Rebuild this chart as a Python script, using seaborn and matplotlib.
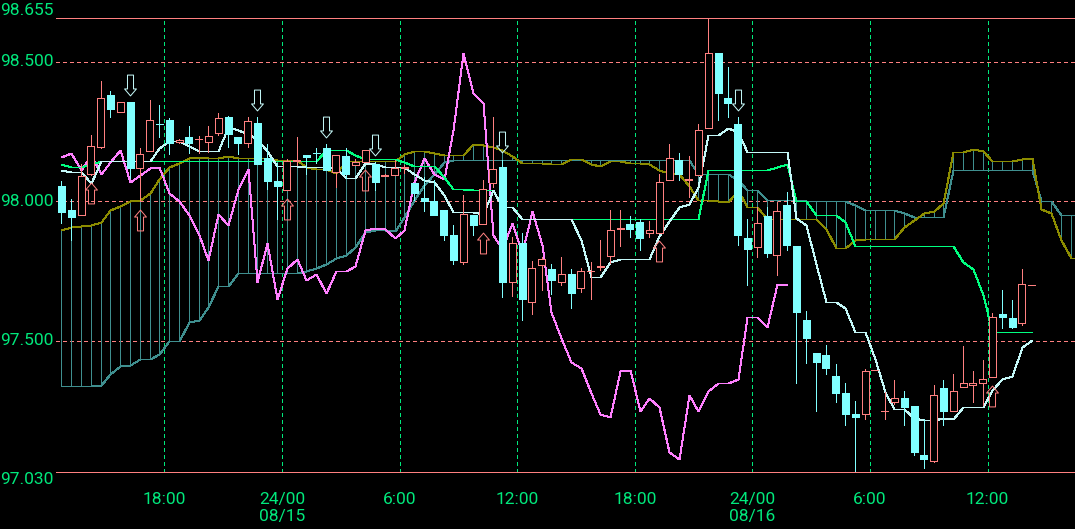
import numpy as np
import matplotlib
matplotlib.use("Agg")
import matplotlib.pyplot as plt
import matplotlib.transforms as mtransforms
from matplotlib.path import Path
import seaborn as sns

# 30 minute candles (index 0..99)
opens = [98.055, 97.970, 97.952, 98.099, 98.195, 98.380, 98.318, 98.354, 98.118, 98.181,
         98.278, 98.291, 98.213, 98.231, 98.222, 98.214, 98.245, 98.303, 98.231, 98.208,
         98.279, 98.154, 98.072, 98.040, 98.146, 98.167, 98.174, 98.190, 98.106, 98.162,
         98.131, 98.141, 98.135, 98.092, 98.094, 98.118, 98.065, 98.013, 98.000, 97.970,
         97.878, 97.783, 97.950, 97.918, 98.065, 98.123, 97.711, 97.851, 97.640, 97.771,
         97.757, 97.711, 97.739, 97.691, 97.749, 97.766, 97.803, 97.900, 97.920, 97.926,
         97.888, 97.888, 98.078, 98.149, 98.076, 98.093, 98.264, 98.532, 98.370, 98.276,
         97.870, 97.836, 97.946, 97.809, 97.988, 97.839, 97.574, 97.458, 97.449, 97.374,
         97.315, 97.240, 97.237, 97.395, 97.248, 97.282, 97.297, 97.266, 97.091, 97.071,
         97.330, 97.249, 97.335, 97.344, 97.350, 97.371, 97.596, 97.584, 97.566, 97.699]
highs = [98.073, 98.007, 98.135, 98.236, 98.430, 98.396, 98.354, 98.354, 98.190, 98.362,
         98.343, 98.298, 98.222, 98.268, 98.235, 98.268, 98.315, 98.306, 98.231, 98.303,
         98.300, 98.204, 98.136, 98.151, 98.231, 98.167, 98.190, 98.204, 98.165, 98.190,
         98.151, 98.184, 98.140, 98.096, 98.149, 98.130, 98.065, 98.087, 98.075, 97.970,
         97.914, 98.021, 97.950, 98.075, 98.302, 98.149, 97.872, 97.885, 97.786, 97.800,
         97.775, 97.799, 97.759, 97.760, 97.783, 97.860, 97.970, 97.970, 97.946, 97.935,
         97.930, 98.099, 98.204, 98.173, 98.161, 98.276, 98.652, 98.532, 98.481, 98.300,
         97.938, 97.980, 97.980, 97.998, 98.033, 97.839, 97.606, 97.458, 97.485, 97.419,
         97.348, 97.284, 97.401, 97.395, 97.318, 97.359, 97.320, 97.266, 97.219, 97.341,
         97.359, 97.383, 97.481, 97.392, 97.431, 97.600, 97.681, 97.648, 97.759, 97.699]
lows = [97.923, 97.862, 97.950, 98.095, 98.190, 98.303, 98.318, 98.082, 98.000, 98.181,
        98.229, 98.169, 98.208, 98.172, 98.172, 98.178, 98.237, 98.196, 98.170, 98.196,
        98.132, 98.045, 97.938, 98.040, 98.129, 98.099, 98.136, 98.111, 98.052, 98.082,
        98.131, 98.141, 98.039, 98.090, 98.094, 98.100, 98.006, 97.965, 97.952, 97.860,
        97.775, 97.777, 97.878, 97.918, 98.051, 97.657, 97.660, 97.574, 97.596, 97.684,
        97.667, 97.701, 97.617, 97.675, 97.652, 97.755, 97.780, 97.839, 97.872, 97.825,
        97.872, 97.888, 98.078, 98.075, 98.015, 98.093, 98.264, 98.290, 98.302, 97.843,
        97.700, 97.800, 97.799, 97.735, 97.827, 97.350, 97.421, 97.249, 97.383, 97.282,
        97.201, 97.030, 97.220, 97.395, 97.222, 97.273, 97.201, 97.091, 97.046, 97.068,
        97.198, 97.249, 97.335, 97.282, 97.270, 97.371, 97.548, 97.548, 97.556, 97.699]
closes = [97.960, 97.944, 98.089, 98.197, 98.369, 98.330, 98.354, 98.118, 98.168, 98.291,
          98.276, 98.210, 98.220, 98.210, 98.224, 98.234, 98.297, 98.241, 98.208, 98.289,
          98.132, 98.074, 98.055, 98.143, 98.149, 98.160, 98.172, 98.111, 98.165, 98.097,
          98.142, 98.183, 98.070, 98.094, 98.118, 98.123, 98.030, 98.001, 97.952, 97.878,
          97.791, 97.956, 97.914, 98.045, 98.117, 97.711, 97.849, 97.649, 97.763, 97.795,
          97.720, 97.739, 97.670, 97.749, 97.752, 97.768, 97.899, 97.903, 97.900, 97.870,
          97.899, 98.069, 98.156, 98.099, 98.080, 98.254, 98.532, 98.388, 98.352, 97.878,
          97.831, 97.922, 97.815, 97.965, 97.843, 97.604, 97.511, 97.425, 97.403, 97.314,
          97.240, 97.228, 97.392, 97.395, 97.250, 97.297, 97.264, 97.103, 97.077, 97.308,
          97.249, 97.321, 97.348, 97.351, 97.365, 97.586, 97.586, 97.550, 97.703, 97.699]

# ichimoku lines
tenkan = [98.113, 98.105, 98.105, 98.065, 98.146, 98.146, 98.146, 98.146, 98.146, 98.146,
          98.190, 98.215, 98.215, 98.198, 98.181, 98.181, 98.181, 98.266, 98.256, 98.242,
          98.224, 98.180, 98.127, 98.127, 98.127, 98.122, 98.121, 98.121, 98.119, 98.085,
          98.085, 98.136, 98.135, 98.122, 98.122, 98.122, 98.098, 98.078, 98.068, 98.022,
          97.962, 97.962, 97.962, 97.953, 98.039, 97.980, 97.980, 97.938, 97.938, 97.938,
          97.938, 97.938, 97.938, 97.862, 97.730, 97.730, 97.783, 97.794, 97.794, 97.794,
          97.794, 97.876, 97.928, 97.980, 97.992, 98.051, 98.239, 98.239, 98.262, 98.248,
          98.176, 98.176, 98.176, 98.176, 98.176, 97.941, 97.916, 97.775, 97.641, 97.641,
          97.617, 97.532, 97.532, 97.435, 97.318, 97.258, 97.258, 97.225, 97.216, 97.216,
          97.224, 97.221, 97.264, 97.264, 97.264, 97.323, 97.364, 97.375, 97.479, 97.504]
kijun = [98.135, 98.123, 98.123, 98.135, 98.146, 98.146, 98.146, 98.146, 98.146, 98.146,
         98.146, 98.146, 98.146, 98.146, 98.146, 98.146, 98.146, 98.146, 98.146, 98.146,
         98.146, 98.146, 98.146, 98.146, 98.146, 98.146, 98.146, 98.184, 98.184, 98.184,
         98.167, 98.150, 98.150, 98.150, 98.150, 98.141, 98.127, 98.127, 98.127, 98.088,
         98.045, 98.045, 98.041, 98.039, 98.039, 97.980, 97.980, 97.938, 97.938, 97.938,
         97.938, 97.938, 97.938, 97.938, 97.938, 97.938, 97.938, 97.938, 97.938, 97.938,
         97.938, 97.938, 97.938, 97.938, 97.938, 97.938, 98.113, 98.113, 98.113, 98.113,
         98.113, 98.113, 98.113, 98.124, 98.135, 98.001, 98.001, 97.951, 97.951, 97.951,
         97.927, 97.841, 97.841, 97.841, 97.841, 97.841, 97.841, 97.841, 97.841, 97.841,
         97.841, 97.841, 97.781, 97.756, 97.665, 97.532, 97.532, 97.532, 97.532, 97.532]
span_a = [97.896, 97.908, 97.911, 97.914, 97.926, 97.968, 97.983, 98.001, 98.006, 98.028,
          98.081, 98.123, 98.137, 98.156, 98.159, 98.156, 98.156, 98.161, 98.156, 98.156,
          98.156, 98.156, 98.149, 98.149, 98.147, 98.124, 98.114, 98.114, 98.100, 98.146,
          98.146, 98.146, 98.146, 98.146, 98.146, 98.168, 98.181, 98.181, 98.172, 98.164,
          98.164, 98.164, 98.206, 98.201, 98.194, 98.185, 98.163, 98.137, 98.137, 98.137,
          98.134, 98.134, 98.153, 98.152, 98.135, 98.126, 98.143, 98.143, 98.136, 98.136,
          98.132, 98.113, 98.103, 98.098, 98.055, 98.004, 98.004, 98.002, 97.996, 98.039,
          97.980, 97.980, 97.938, 97.938, 97.938, 97.938, 97.938, 97.938, 97.900, 97.834,
          97.834, 97.861, 97.866, 97.866, 97.866, 97.866, 97.907, 97.933, 97.959, 97.965,
          97.994, 98.176, 98.176, 98.188, 98.181, 98.145, 98.145, 98.145, 98.150, 98.156,
          97.971, 97.959, 97.863, 97.796, 97.796]
span_b = [97.339, 97.339, 97.339, 97.339, 97.341, 97.383, 97.409, 97.413, 97.435, 97.437,
          97.455, 97.499, 97.499, 97.568, 97.574, 97.622, 97.696, 97.696, 97.743, 97.743,
          97.743, 97.743, 97.743, 97.743, 97.743, 97.751, 97.760, 97.777, 97.796, 97.807,
          97.836, 97.889, 97.896, 97.896, 97.894, 97.944, 98.004, 98.057, 98.099, 98.141,
          98.147, 98.147, 98.147, 98.147, 98.147, 98.147, 98.147, 98.147, 98.147, 98.147,
          98.147, 98.147, 98.147, 98.147, 98.147, 98.147, 98.147, 98.147, 98.147, 98.147,
          98.147, 98.147, 98.147, 98.147, 98.147, 98.099, 98.099, 98.099, 98.099, 98.075,
          98.042, 98.042, 98.004, 98.004, 98.004, 98.004, 98.002, 98.002, 98.002, 98.002,
          98.002, 97.985, 97.968, 97.968, 97.968, 97.968, 97.959, 97.945, 97.945, 97.945,
          97.945, 98.113, 98.113, 98.113, 98.113, 98.113, 98.113, 98.113, 98.113, 98.113,
          98.001, 98.001, 97.951, 97.951, 97.951]
lag = 25  # lagging span: close drawn 25 bars back

# signal arrows (candle index)
arrow_down = [7, 20, 27, 32, 45, 69]
arrow_up = [3, 8, 23, 31, 43, 61, 95]

tick_pos = [10.5, 22.5, 34.5, 46.5, 58.5, 70.5, 82.5, 94.5]
tick_labels = ["18:00", "24/00\n08/15", "6:00", "12:00", "18:00", "24/00\n08/16", "6:00", "12:00"]
price_labels = [98.655, 98.5, 98.0, 97.5, 97.03]
grid_prices = [98.5, 98.0, 97.5]

GREEN = "#00e87c"
SALMON = "#ff8080"
CYAN = "#80ffff"
PALE = "#c4f8f8"
KIJUN = "#00ff80"
MAGENTA = "#ff80ff"
OLIVE = "#8c8c00"
TEAL = "#3f8f8f"
LW = 0.72

sns.set_theme(style="dark", rc={"axes.facecolor": "black", "figure.facecolor": "black"})
plt.rcParams["font.family"] = ["Roboto", "DejaVu Sans"]

fig = plt.figure(figsize=(10.75, 5.29), dpi=100)
ax = fig.add_axes([56 / 1075, (529 - 472.3) / 529, 1019 / 1075, 454 / 529])
ax.set_facecolor("black")

x = np.arange(len(closes))
xc = np.arange(len(span_a))
o = np.array(opens)
c = np.array(closes)

# grid
for p in grid_prices:
    ax.axhline(p, color=SALMON, linewidth=LW, ls=(0, (3, 3)), zorder=0.5, antialiased=False)
for t in tick_pos:
    ax.axvline(t, color=GREEN, linewidth=LW, ls=(0, (4, 3)), zorder=0.5, antialiased=False)

# cloud
ax.vlines(xc, span_a, span_b, colors=TEAL, linewidth=LW, zorder=1, antialiased=False)
line_kw = dict(ax=ax, linewidth=LW, antialiased=False, snap=True, legend=False, estimator=None)
sns.lineplot(x=xc, y=span_b, color=TEAL, zorder=2, **line_kw)
sns.lineplot(x=xc, y=span_a, color=OLIVE, zorder=2, **line_kw)

# lagging span, base line, conversion line
sns.lineplot(x=x[:len(x) - lag], y=c[lag:], color=MAGENTA, zorder=3, **line_kw)
sns.lineplot(x=x, y=kijun, color=KIJUN, zorder=3, **line_kw)
sns.lineplot(x=x, y=tenkan, color=PALE, zorder=3, **line_kw)

# candles
up = c >= o
edge = np.where(up, SALMON, CYAN)
ax.vlines(x, lows, highs, colors=edge, linewidth=LW, zorder=4, antialiased=False)
ax.bar(x, np.abs(c - o), bottom=np.minimum(o, c), width=0.7,
       color=np.where(up, "black", CYAN), edgecolor=edge, linewidth=LW, zorder=5,
       antialiased=False)

# arrows
up_path = Path([(0, 1), (0.57, 0.33), (0.29, 0.33), (0.29, -1), (-0.29, -1),
                (-0.29, 0.33), (-0.57, 0.33), (0, 1)], closed=True)
down_path = Path([(0, -1), (0.57, -0.33), (0.29, -0.33), (0.29, 1), (-0.29, 1),
                  (-0.29, -0.33), (-0.57, -0.33), (0, -1)], closed=True)
hi = np.array(highs)
lo = np.array(lows)
ax.plot(arrow_down, hi[arrow_down], ls="none", marker=down_path, markersize=15,
        markerfacecolor="none", markeredgecolor=PALE, markeredgewidth=LW, zorder=6,
        transform=mtransforms.offset_copy(ax.transData, fig=fig, y=17.5, units="dots"))
ax.plot(arrow_up, lo[arrow_up], ls="none", marker=up_path, markersize=15,
        markerfacecolor="none", markeredgecolor=SALMON, markeredgewidth=LW, zorder=6,
        transform=mtransforms.offset_copy(ax.transData, fig=fig, y=-18.5, units="dots"))

ax.set_xlim(-0.561, 103.42)
ax.set_ylim(97.030, 98.655)
ax.grid(False)
for s in ["left", "right"]:
    ax.spines[s].set_visible(False)
for s in ["top", "bottom"]:
    ax.spines[s].set_visible(True)
    ax.spines[s].set_color(SALMON)
    ax.spines[s].set_linewidth(LW)

ax.set_xticks(tick_pos)
ax.set_xticklabels(tick_labels, linespacing=1.15, ha="center")
ax.tick_params(axis="x", length=0, pad=14, colors=GREEN, labelsize=12.5)
ax.set_yticks([])
ax.set_xlabel("")
ax.set_ylabel("")

trans = mtransforms.blended_transform_factory(ax.transAxes, ax.transData)
for p in price_labels:
    va = "bottom" if p == max(price_labels) else ("top" if p == min(price_labels) else "center")
    ax.text(-0.002, p, f"{p:.3f}", transform=trans, ha="right", va=va,
            color=GREEN, fontsize=12.5, clip_on=False)

fig.savefig("out.png", dpi=100, facecolor="black")
